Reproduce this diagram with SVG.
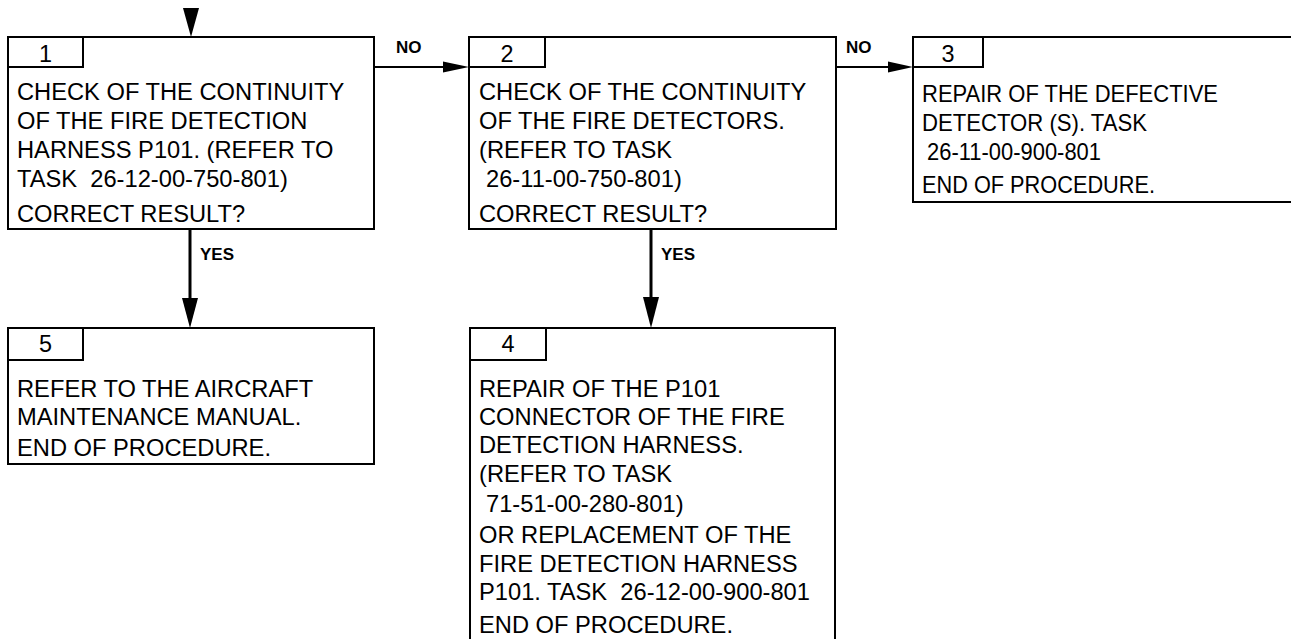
<svg xmlns="http://www.w3.org/2000/svg" width="1291" height="639" viewBox="0 0 1291 639">
<style>
.box{fill:#fff;stroke:#000;stroke-width:2}
.t{font-family:"Liberation Sans",Arial,sans-serif;font-size:23.7px;fill:#000}
.n{font-family:"Liberation Sans",Arial,sans-serif;font-size:23.4px;fill:#000;text-anchor:middle}
.lb{font-family:"Liberation Sans",Arial,sans-serif;font-size:17px;font-weight:bold;fill:#000}
.c{stroke:#000;stroke-width:2;fill:none}
.cy{stroke:#000;stroke-width:3;fill:none}
</style>
<rect width="1291" height="639" fill="#fff"/>
<g id="connectors">
<polygon points="183,8 199,8 191,37" fill="#000"/>
<line class="c" x1="374" y1="67" x2="445" y2="67"/>
<polygon points="443,61.5 469,67 443,72.5" fill="#000"/>
<text class="lb" x="396" y="53">NO</text>
<line class="c" x1="836" y1="67" x2="890" y2="67"/>
<polygon points="888,61.5 913,67 888,72.5" fill="#000"/>
<text class="lb" x="846" y="53">NO</text>
<line class="cy" x1="190" y1="229" x2="190" y2="300"/>
<polygon points="182,298 198,298 190,328" fill="#000"/>
<text class="lb" x="200" y="260">YES</text>
<line class="cy" x1="651" y1="229" x2="651" y2="300"/>
<polygon points="643,297 659,297 651,328" fill="#000"/>
<text class="lb" x="661" y="260">YES</text>
</g>
<g id="node1">
<rect class="box" x="8" y="37" width="366" height="192"/>
<rect class="box" x="8" y="37" width="75" height="30"/>
<text class="n" x="45.5" y="62">1</text>
<text class="t" x="17" y="100">CHECK OF THE CONTINUITY</text>
<text class="t" x="17" y="129">OF THE FIRE DETECTION</text>
<text class="t" x="17" y="158">HARNESS P101. (REFER TO</text>
<text class="t" x="17" y="187" xml:space="preserve">TASK  26-12-00-750-801)</text>
<text class="t" x="17" y="222">CORRECT RESULT?</text>
</g>
<g id="node2">
<rect class="box" x="469" y="37" width="367" height="192"/>
<rect class="box" x="469" y="37" width="76" height="30"/>
<text class="n" x="507" y="62">2</text>
<text class="t" x="479" y="100">CHECK OF THE CONTINUITY</text>
<text class="t" x="479" y="129">OF THE FIRE DETECTORS.</text>
<text class="t" x="479" y="158">(REFER TO TASK</text>
<text class="t" x="486" y="187">26-11-00-750-801)</text>
<text class="t" x="479" y="222">CORRECT RESULT?</text>
</g>
<g id="node3">
<rect class="box" x="913" y="37" width="390" height="165"/>
<rect class="box" x="913" y="37" width="70" height="30"/>
<text class="n" x="948" y="62">3</text>
<text class="t" x="922" y="102" textLength="296" lengthAdjust="spacingAndGlyphs">REPAIR OF THE DEFECTIVE</text>
<text class="t" x="922" y="131" textLength="225" lengthAdjust="spacingAndGlyphs">DETECTOR (S). TASK</text>
<text class="t" x="927" y="160" textLength="174" lengthAdjust="spacingAndGlyphs">26-11-00-900-801</text>
<text class="t" x="922" y="193" textLength="233" lengthAdjust="spacingAndGlyphs">END OF PROCEDURE.</text>
</g>
<g id="node5">
<rect class="box" x="8" y="328" width="366" height="136"/>
<rect class="box" x="8" y="328" width="75" height="32"/>
<text class="n" x="45.5" y="352">5</text>
<text class="t" x="17" y="397">REFER TO THE AIRCRAFT</text>
<text class="t" x="17" y="425">MAINTENANCE MANUAL.</text>
<text class="t" x="17" y="456">END OF PROCEDURE.</text>
</g>
<g id="node4">
<rect class="box" x="470" y="328" width="365" height="320"/>
<rect class="box" x="470" y="328" width="76" height="32"/>
<text class="n" x="508" y="352">4</text>
<text class="t" x="479" y="397">REPAIR OF THE P101</text>
<text class="t" x="479" y="425">CONNECTOR OF THE FIRE</text>
<text class="t" x="479" y="453">DETECTION HARNESS.</text>
<text class="t" x="479" y="482">(REFER TO TASK</text>
<text class="t" x="486" y="512">71-51-00-280-801)</text>
<text class="t" x="479" y="543">OR REPLACEMENT OF THE</text>
<text class="t" x="479" y="572">FIRE DETECTION HARNESS</text>
<text class="t" x="479" y="600" xml:space="preserve">P101. TASK  26-12-00-900-801</text>
<text class="t" x="479" y="633">END OF PROCEDURE.</text>
</g>
</svg>
